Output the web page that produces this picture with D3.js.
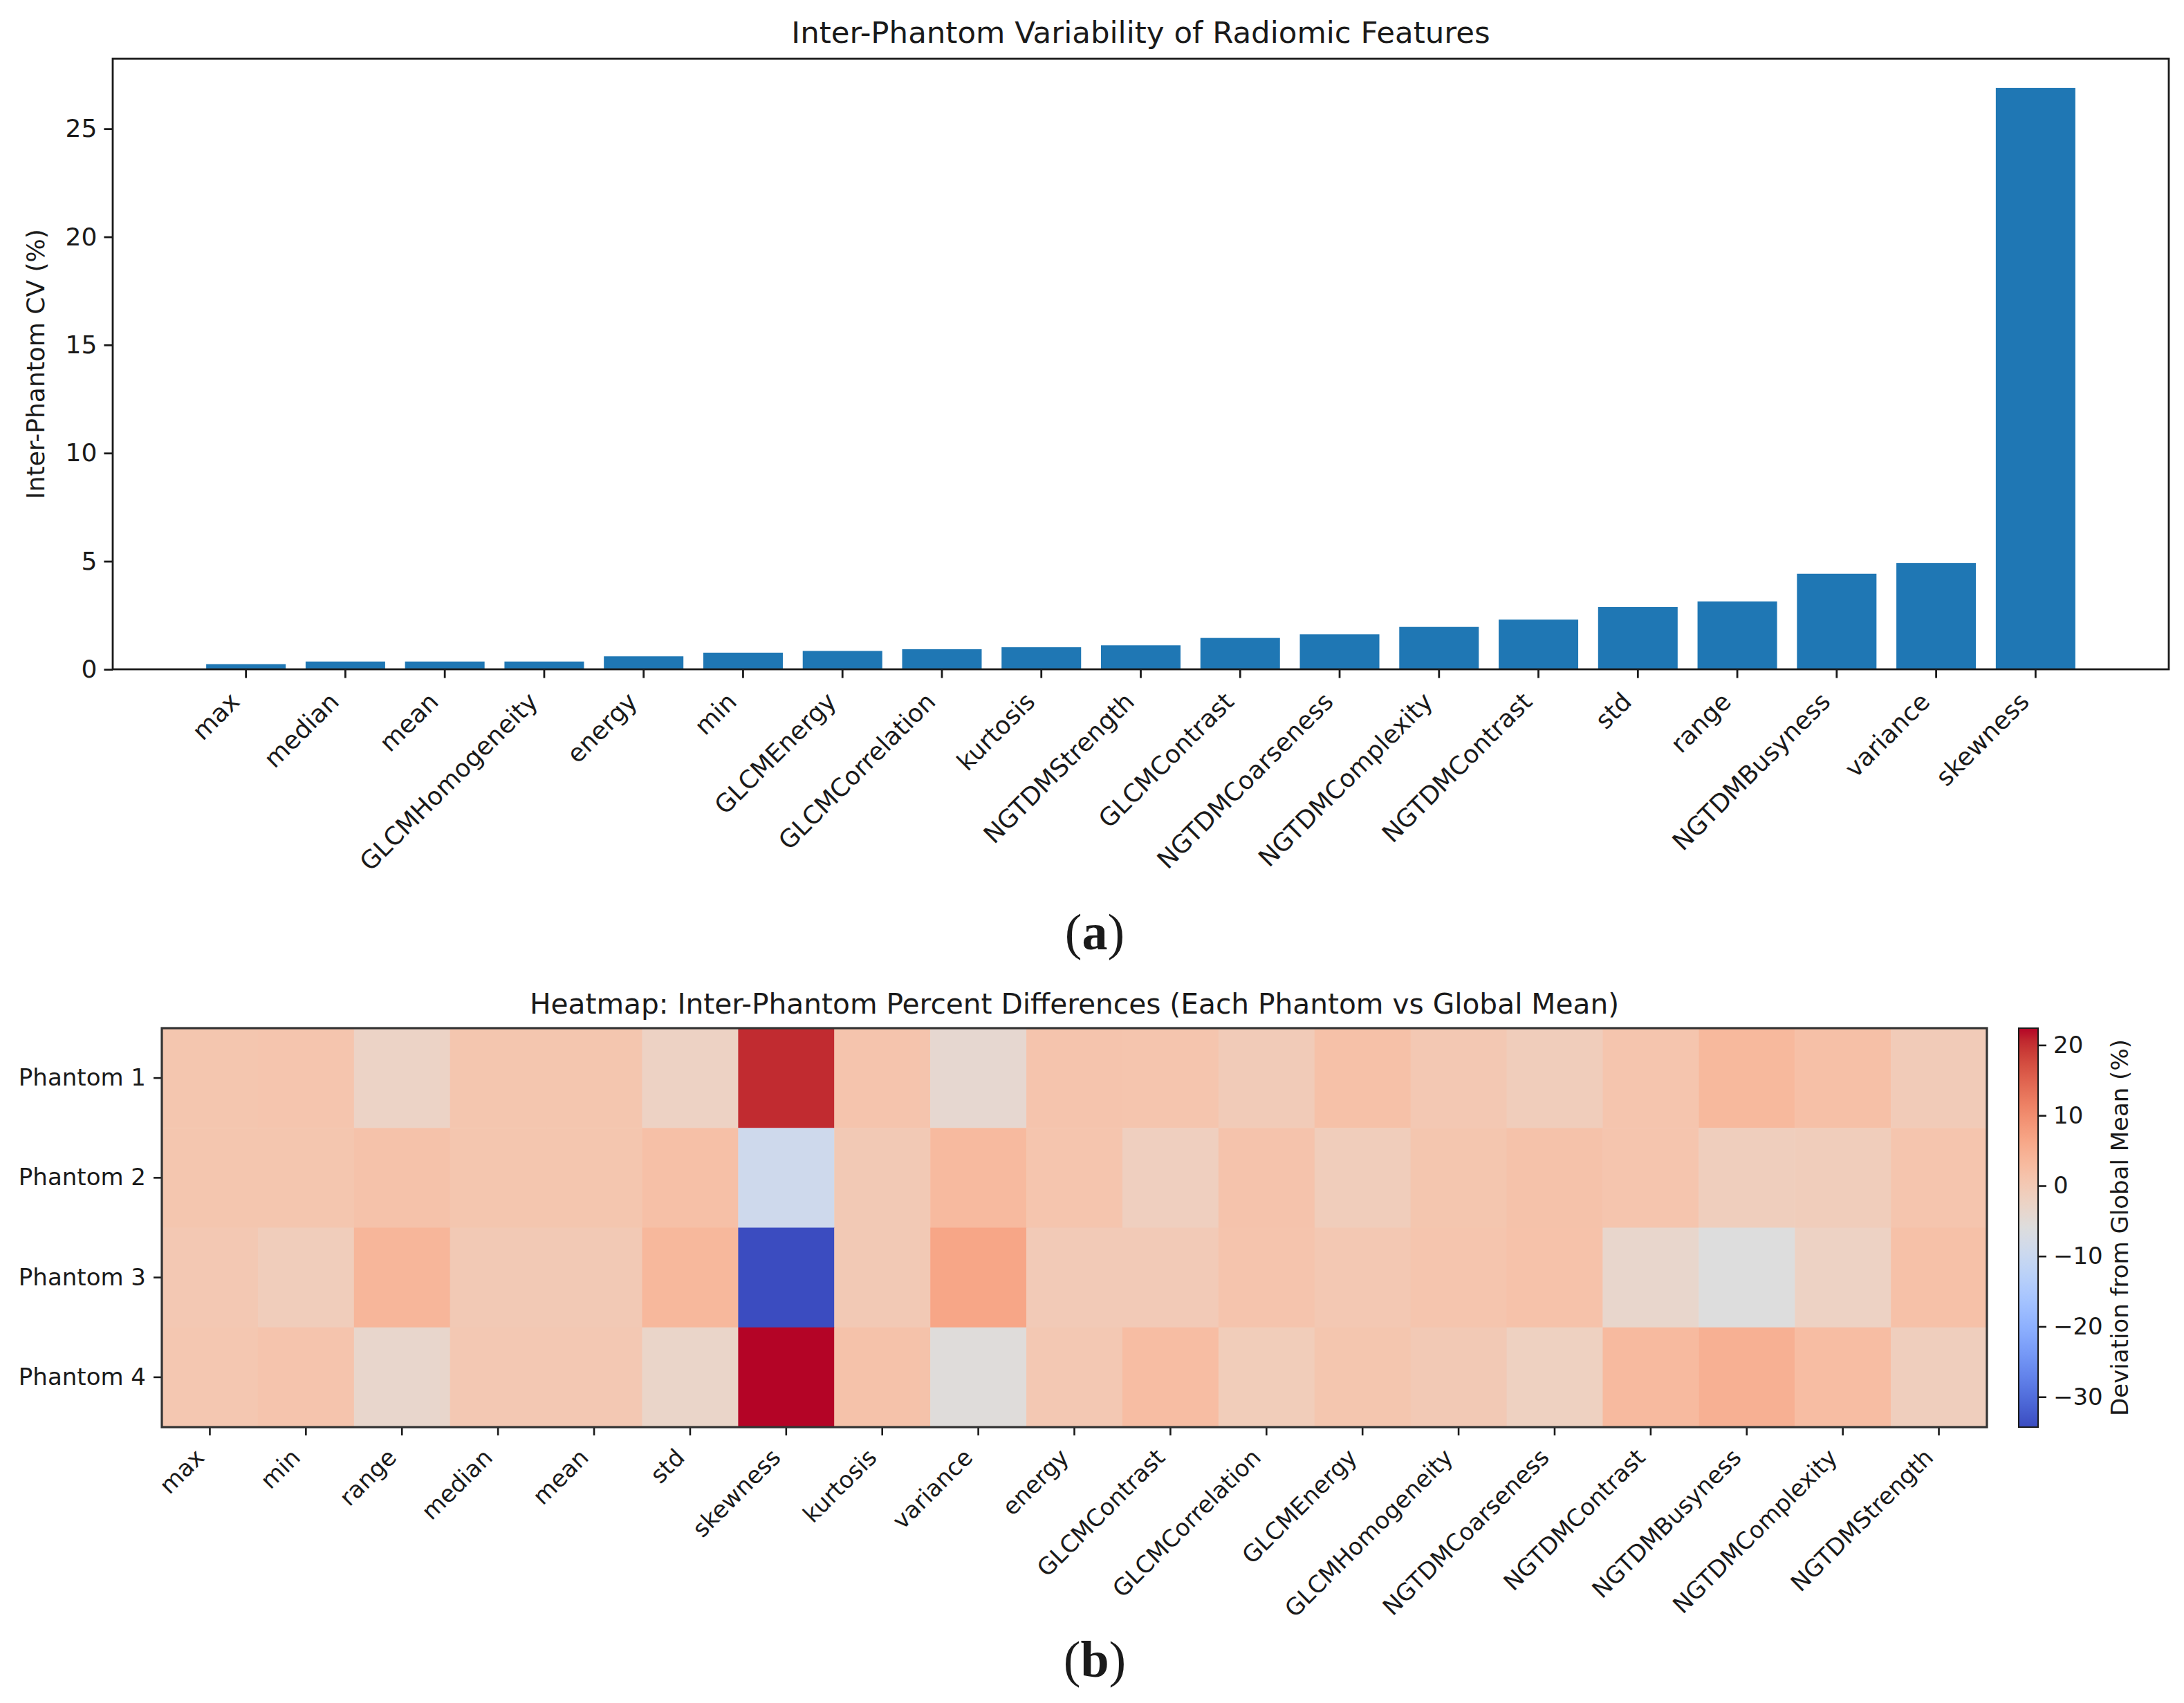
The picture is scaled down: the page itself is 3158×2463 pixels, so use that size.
<!DOCTYPE html>
<html>
<head>
<meta charset="utf-8">
<script src="https://cdn.jsdelivr.net/npm/d3@7/dist/d3.min.js"></script>
<style>
  html, body { margin: 0; padding: 0; background: #fff; }
  svg { display: block; }
  text { font-family: "DejaVu Sans", sans-serif; fill: #1a1a1a; }
</style>
</head>
<body>
<svg id="chart" width="3158" height="2463"></svg>
<script>
// ---------------- DATA ----------------
// (a) bar chart: inter-phantom CV (%)
const barCategories = ["max", "median", "mean", "GLCMHomogeneity", "energy", "min", "GLCMEnergy",
  "GLCMCorrelation", "kurtosis", "NGTDMStrength", "GLCMContrast", "NGTDMCoarseness",
  "NGTDMComplexity", "NGTDMContrast", "std", "range", "NGTDMBusyness", "variance", "skewness"];
const barValues = [0.24, 0.36, 0.36, 0.36, 0.60, 0.77, 0.85, 0.93, 1.02, 1.11, 1.45, 1.62,
  1.96, 2.30, 2.88, 3.14, 4.42, 4.92, 26.89];
const barYTicks = [0, 5, 10, 15, 20, 25];

// (b) heatmap: deviation from global mean (%)
const heatFeatures = ["max", "min", "range", "median", "mean", "std", "skewness", "kurtosis",
  "variance", "energy", "GLCMContrast", "GLCMCorrelation", "GLCMEnergy", "GLCMHomogeneity",
  "NGTDMCoarseness", "NGTDMContrast", "NGTDMBusyness", "NGTDMComplexity", "NGTDMStrength"];
const heatPhantoms = ["Phantom 1", "Phantom 2", "Phantom 3", "Phantom 4"];
const phantom1 = [0.8, 1.0, -2.5, 0.8, 0.8, -2.2, 20.4, 1.2, -4.0, 1.2, 1.0, -0.5, 1.8, 0.3, -1.0, 1.0, 3.3, 2.0, -0.5];
const phantom2 = [0.8, 0.8, 1.5, 0.8, 0.8, 2.0, -9.1, 0.0, 3.0, 1.0, -1.5, 1.3, -1.0, 0.8, 1.5, 1.0, -1.2, -1.0, 1.0];
const phantom3 = [0.2, -1.0, 3.8, 0.0, 0.0, 3.5, -34.3, 0.0, 6.5, -0.3, -0.3, 1.2, 0.3, 1.0, 1.6, -3.5, -6.0, -2.2, 1.8];
const phantom4 = [0.5, 1.2, -3.5, 0.3, 0.3, -3.0, 22.4, 1.5, -5.5, 0.3, 2.5, -0.8, 0.8, 0.0, -1.8, 3.0, 4.8, 2.5, -1.2];
const heatRows = [phantom1, phantom2, phantom3, phantom4];
const cbarTicks = [-30, -20, -10, 0, 10, 20];

// matplotlib "coolwarm" (Moreland) control colours
const coolwarmStops = [
  [59,76,192],[68,90,204],[77,104,215],[87,117,225],[98,130,234],[108,142,241],[119,154,247],
  [130,165,251],[141,176,254],[152,185,255],[163,194,255],[174,201,253],[184,208,249],
  [194,213,244],[204,217,238],[213,219,230],[221,221,221],[229,216,209],[236,211,197],
  [241,204,185],[245,196,173],[247,187,160],[247,177,148],[247,166,135],[244,154,123],
  [241,141,111],[236,127,99],[229,112,88],[222,96,77],[213,80,66],[203,62,56],[192,40,47],[180,4,38]];

// ---------------- DRAW ----------------
const svg = d3.select("#chart");
const minus = s => String(s).replace("-", "\u2212");

// ===== Panel (a) =====
const A = {left: 163, right: 3136, top: 85, bottom: 968};
const fsA = 36;
const x = d3.scaleBand().domain(barCategories).range([A.left, A.right])
  .paddingInner(0.2).paddingOuter(0.94);
const y = d3.scaleLinear().domain([0, d3.max(barValues) * 1.05]).range([A.bottom, A.top]);

const gA = svg.append("g");
gA.selectAll("rect.bar").data(barCategories).join("rect")
  .attr("class", "bar")
  .attr("x", d => x(d))
  .attr("width", x.bandwidth())
  .attr("y", (d, i) => y(barValues[i]))
  .attr("height", (d, i) => y(0) - y(barValues[i]))
  .attr("fill", "#1f77b4");

// y axis
const yAxis = d3.axisLeft(y).tickValues(barYTicks).tickSize(12.6).tickPadding(10).tickFormat(d3.format("d"));
const gy = gA.append("g").attr("transform", `translate(${A.left},0)`).call(yAxis);
gy.select(".domain").remove();
gy.selectAll(".tick line").attr("stroke", "#1a1a1a").attr("stroke-width", 2.8);
gy.selectAll(".tick text").attr("font-size", fsA).attr("font-family", "DejaVu Sans").attr("fill", "#1a1a1a");

// x axis
const xAxis = d3.axisBottom(x).tickSize(12.6).tickFormat("");
const gx = gA.append("g").attr("transform", `translate(0,${A.bottom})`).call(xAxis);
gx.select(".domain").remove();
gx.selectAll(".tick line").attr("stroke", "#1a1a1a").attr("stroke-width", 2.8);
gA.selectAll("text.xlab").data(barCategories).join("text")
  .attr("class", "xlab")
  .attr("text-anchor", "end")
  .attr("font-size", fsA)
  .attr("transform", d => `translate(${x(d) + x.bandwidth() / 2 - 7},${A.bottom + 49}) rotate(-45)`)
  .text(d => d);

// frame
gA.append("rect").attr("x", A.left).attr("y", A.top)
  .attr("width", A.right - A.left).attr("height", A.bottom - A.top)
  .attr("fill", "none").attr("stroke", "#1a1a1a").attr("stroke-width", 2.8);

// title and y label
gA.append("text").attr("x", (A.left + A.right) / 2).attr("y", 62)
  .attr("text-anchor", "middle").attr("font-size", 43.5)
  .text("Inter-Phantom Variability of Radiomic Features");
gA.append("text").attr("text-anchor", "middle").attr("font-size", fsA)
  .attr("transform", `translate(64,${(A.top + A.bottom) / 2}) rotate(-90)`)
  .text("Inter-Phantom CV (%)");

// panel label
function panelLabel(cx, by, letter) {
  const t = svg.append("text").attr("x", cx).attr("y", by).attr("text-anchor", "middle")
    .style("font-family", "'Liberation Serif', 'DejaVu Serif', serif").attr("font-size", 74).attr("fill", "#000");
  t.append("tspan").text("(");
  t.append("tspan").attr("font-weight", "bold").text(letter);
  t.append("tspan").text(")");
}
panelLabel(1583, 1373, "a");

// ===== Panel (b) =====
const B = {left: 234, right: 2873, top: 1487, bottom: 2064};
const fsB = 34;
const hx = d3.scaleBand().domain(heatFeatures).range([B.left, B.right]);
const hy = d3.scaleBand().domain(heatPhantoms).range([B.top, B.bottom]);

const allVals = heatRows.flat();
const vmin = d3.min(allVals), vmax = d3.max(allVals);
const cmap = d3.scaleLinear()
  .domain(coolwarmStops.map((c, i) => i / (coolwarmStops.length - 1)))
  .range(coolwarmStops.map(c => d3.rgb(c[0], c[1], c[2])))
  .interpolate(d3.interpolateRgb)
  .clamp(true);
const color = v => cmap((v - vmin) / (vmax - vmin));

const cells = [];
heatRows.forEach((row, r) => row.forEach((v, c) => cells.push({r: heatPhantoms[r], c: heatFeatures[c], v})));

const gB = svg.append("g");
gB.selectAll("rect.cell").data(cells).join("rect")
  .attr("class", "cell")
  .attr("x", d => hx(d.c))
  .attr("y", d => hy(d.r))
  .attr("width", hx.bandwidth() + 0.5)
  .attr("height", hy.bandwidth() + 0.5)
  .attr("fill", d => color(d.v));

// axes
const hxAxis = d3.axisBottom(hx).tickSize(12).tickFormat("");
const ghx = gB.append("g").attr("transform", `translate(0,${B.bottom})`).call(hxAxis);
ghx.select(".domain").remove();
ghx.selectAll(".tick line").attr("stroke", "#1a1a1a").attr("stroke-width", 2.6);
gB.selectAll("text.hxlab").data(heatFeatures).join("text")
  .attr("class", "hxlab")
  .attr("text-anchor", "end")
  .attr("font-size", fsB)
  .attr("transform", d => `translate(${hx(d) + hx.bandwidth() / 2 - 6},${B.bottom + 46}) rotate(-45)`)
  .text(d => d);

const hyAxis = d3.axisLeft(hy).tickSize(12).tickPadding(11);
const ghy = gB.append("g").attr("transform", `translate(${B.left},0)`).call(hyAxis);
ghy.select(".domain").remove();
ghy.selectAll(".tick line").attr("stroke", "#1a1a1a").attr("stroke-width", 2.6);
ghy.selectAll(".tick text").attr("font-size", fsB).attr("font-family", "DejaVu Sans").attr("fill", "#1a1a1a");

gB.append("rect").attr("x", B.left).attr("y", B.top)
  .attr("width", B.right - B.left).attr("height", B.bottom - B.top)
  .attr("fill", "none").attr("stroke", "#333").attr("stroke-width", 3.2);

gB.append("text").attr("x", (B.left + B.right) / 2).attr("y", 1466)
  .attr("text-anchor", "middle").attr("font-size", 40.7)
  .text("Heatmap: Inter-Phantom Percent Differences (Each Phantom vs Global Mean)");

// colorbar
const CB = {left: 2919, right: 2947, top: B.top, bottom: B.bottom};
const defs = svg.append("defs");
const grad = defs.append("linearGradient").attr("id", "cwgrad")
  .attr("x1", 0).attr("y1", 1).attr("x2", 0).attr("y2", 0);
coolwarmStops.forEach((c, i) => {
  grad.append("stop").attr("offset", i / (coolwarmStops.length - 1))
    .attr("stop-color", d3.rgb(c[0], c[1], c[2]).formatHex());
});
gB.append("rect").attr("x", CB.left).attr("y", CB.top)
  .attr("width", CB.right - CB.left).attr("height", CB.bottom - CB.top)
  .attr("fill", "url(#cwgrad)").attr("stroke", "#1a1a1a").attr("stroke-width", 2);
const cy = d3.scaleLinear().domain([vmin, vmax]).range([CB.bottom, CB.top]);
const cAxis = d3.axisRight(cy).tickValues(cbarTicks).tickSize(12).tickPadding(10).tickFormat(d => minus(d));
const gc = gB.append("g").attr("transform", `translate(${CB.right},0)`).call(cAxis);
gc.select(".domain").remove();
gc.selectAll(".tick line").attr("stroke", "#1a1a1a").attr("stroke-width", 2.6);
gc.selectAll(".tick text").attr("font-size", fsB).attr("font-family", "DejaVu Sans").attr("fill", "#1a1a1a");
gB.append("text").attr("text-anchor", "middle").attr("font-size", fsB)
  .attr("transform", `translate(3077,${(CB.top + CB.bottom) / 2}) rotate(-90)`)
  .text("Deviation from Global Mean (%)");

panelLabel(1583, 2425, "b");
</script>
</body>
</html>
